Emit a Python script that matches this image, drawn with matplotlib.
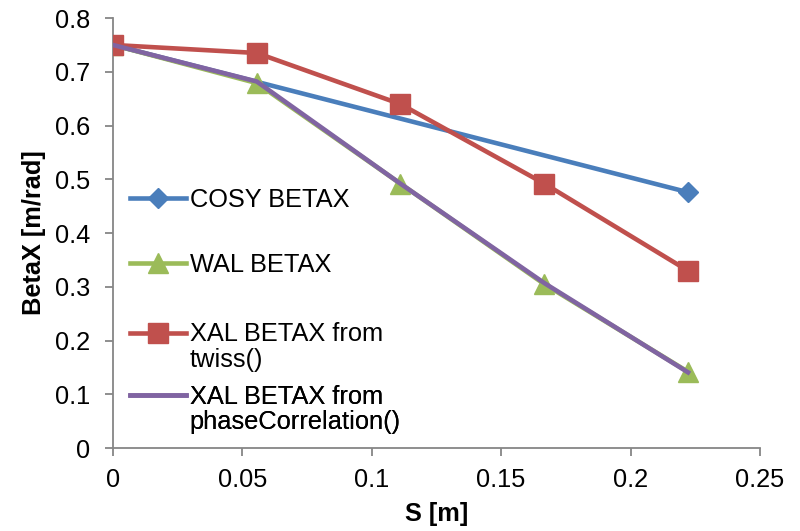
import numpy as np
import matplotlib.pyplot as plt
from matplotlib.legend_handler import HandlerLine2D

plt.rcParams['font.family'] = ['Liberation Sans', 'DejaVu Sans']

# posicoes ao longo da linha (m)
s_vals = [0.0, 0.0556, 0.1111, 0.1667, 0.2222]
s_cosy = [0.0, 0.2222]

cosy_betax = [0.75, 0.476]
wal_betax = [0.75, 0.679, 0.492, 0.305, 0.142]
xal_twiss = [0.75, 0.735, 0.640, 0.492, 0.330]
xal_phase = [0.75, 0.682, 0.492, 0.307, 0.141]

x_ticks = [0, 0.05, 0.1, 0.15, 0.2, 0.25]
y_ticks = [0, 0.1, 0.2, 0.3, 0.4, 0.5, 0.6, 0.7, 0.8]

FS = 18.3


# desloca o simbolo da legenda para a primeira linha do texto
class HandlerPrimeiraLinha(HandlerLine2D):
    def __init__(self, desloc=0.0, **kw):
        super().__init__(**kw)
        self.desloc = desloc

    def create_artists(self, legend, orig_handle, xdescent, ydescent,
                       width, height, fontsize, trans):
        artists = super().create_artists(legend, orig_handle, xdescent,
                                         ydescent, width, height, fontsize, trans)
        for a in artists:
            a.set_ydata(np.asarray(a.get_ydata()) + self.desloc)
        return artists


fig = plt.figure(figsize=(8, 5.31), dpi=100)
ax = fig.add_axes([0.141, 0.156, 0.809, 0.81])

l_cosy, = ax.plot(s_cosy, cosy_betax, color='#4A7EBB', lw=3.3, marker='D', ms=10,
                  label='COSY BETAX', zorder=2)
l_wal, = ax.plot(s_vals, wal_betax, color='#9BBB59', lw=3.3, marker='^', ms=14,
                 label='WAL BETAX', zorder=3)
l_twiss, = ax.plot(s_vals, xal_twiss, color='#C0504D', lw=3.3, marker='s', ms=14.5,
                   label='XAL BETAX from\ntwiss()', zorder=4)
l_phase, = ax.plot(s_vals, xal_phase, color='#8064A2', lw=3.3,
                   label='XAL BETAX from\nphaseCorrelation()', zorder=5)

ax.set_xlim(0, 0.25)
ax.set_ylim(0, 0.8)
ax.set_xticks(x_ticks)
ax.set_xticklabels(['0', '0.05', '0.1', '0.15', '0.2', '0.25'])
ax.set_yticks(y_ticks)
ax.set_yticklabels(['0', '0.1', '0.2', '0.3', '0.4', '0.5', '0.6', '0.7', '0.8'])

for lado in ['top', 'right']:
    ax.spines[lado].set_visible(False)
for lado in ['left', 'bottom']:
    ax.spines[lado].set_color('#868686')
    ax.spines[lado].set_linewidth(1.3)
ax.tick_params(direction='out', length=5.5, width=1.3, color='#868686',
               labelsize=FS)
ax.tick_params(axis='y', pad=11)
ax.tick_params(axis='x', pad=9)

ax.set_xlabel('S [m]', fontsize=FS, fontweight='bold', labelpad=7)
ax.set_ylabel('BetaX [m/rad]', fontsize=FS, fontweight='bold', labelpad=6)

# uma legenda por serie, espacadas como no grafico original
entradas = [(l_cosy, 0.577, 0.0),
            (l_wal, 0.426, 0.0),
            (l_twiss, 0.236, 10.5),
            (l_phase, 0.090, 10.5)]
for linha, y_pos, desloc in entradas:
    leg = ax.legend(handles=[linha], loc='center left',
                    bbox_to_anchor=(0.026, y_pos), frameon=False,
                    fontsize=FS, handlelength=2.2, handletextpad=0.16,
                    borderpad=0, borderaxespad=0, labelspacing=0,
                    handler_map={linha: HandlerPrimeiraLinha(desloc)})
    leg.get_texts()[0].set_linespacing(1.1)
    ax.add_artist(leg)

fig.savefig('out.png', dpi=100)
